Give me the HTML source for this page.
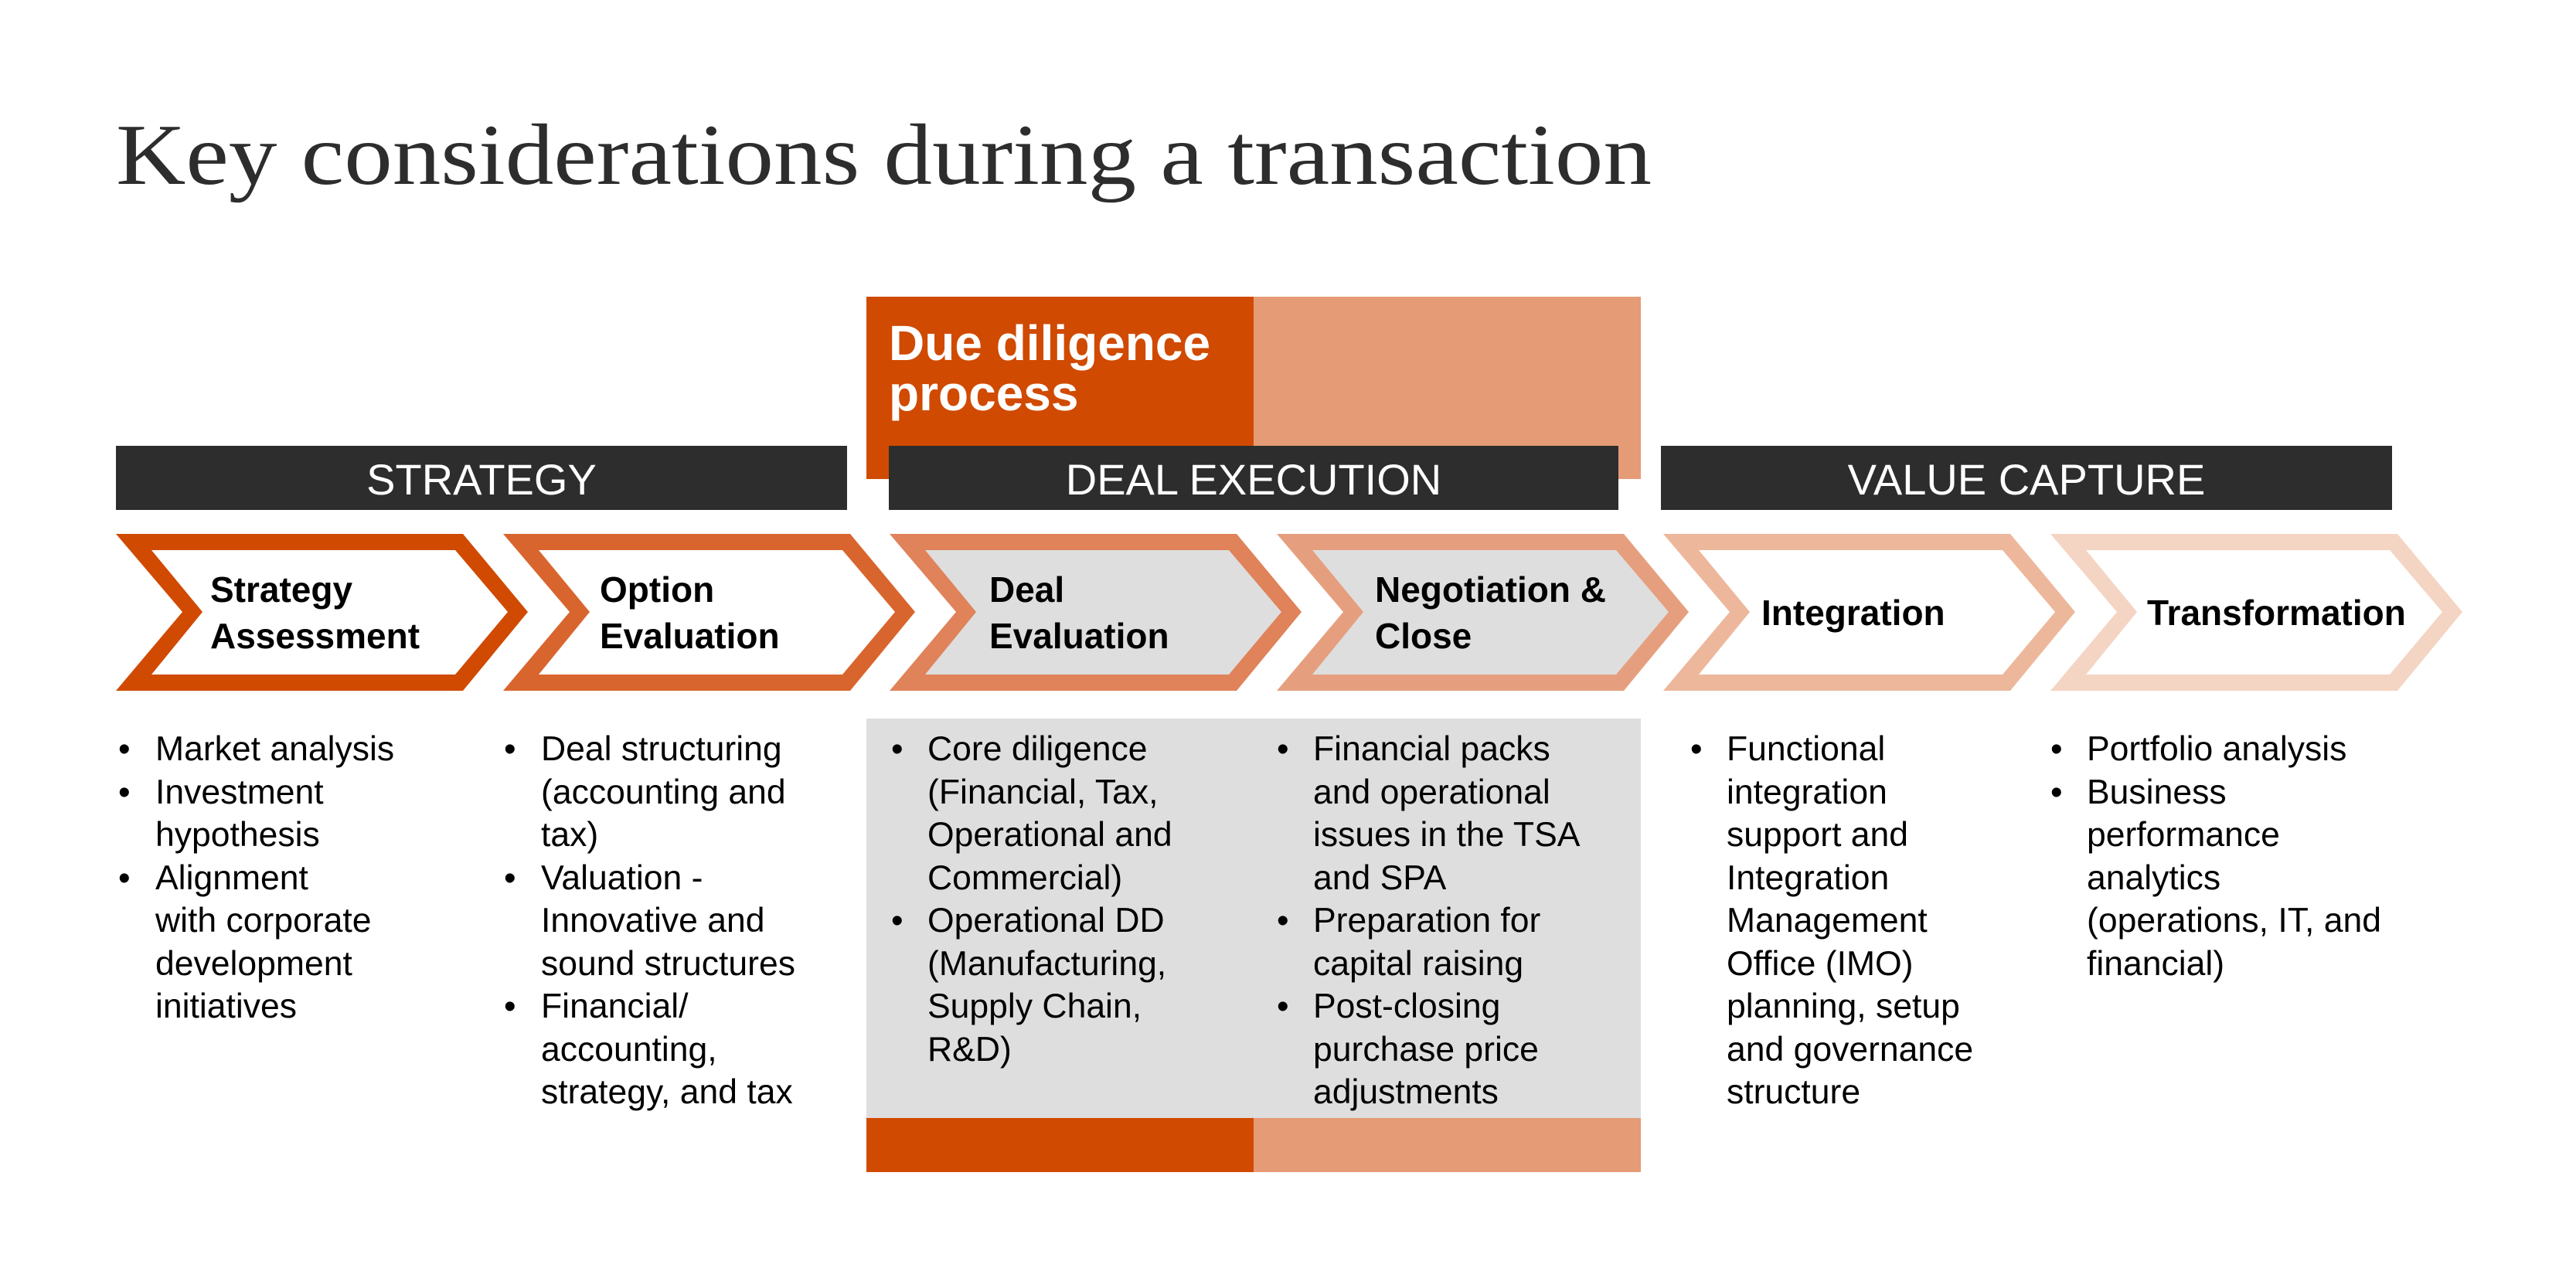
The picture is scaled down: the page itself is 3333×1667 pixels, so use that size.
<!DOCTYPE html>
<html><head><meta charset="utf-8"><style>
html,body{margin:0;padding:0;background:#fff;}
svg{display:block;}
text{font-family:"Liberation Sans",Arial,sans-serif;}
</style></head><body>
<svg width="3333" height="1667" viewBox="0 0 3333 1667" xmlns="http://www.w3.org/2000/svg">
<text x="150" y="238" font-size="112" fill="#2d2d2d" textLength="1987" lengthAdjust="spacingAndGlyphs" style="font-family:'Liberation Serif',serif">Key considerations during a transaction</text>

<!-- Due diligence header -->
<rect x="1121" y="384" width="501" height="236" fill="#D04A02"/>
<rect x="1622" y="384" width="501" height="236" fill="#E59B76"/>
<text x="1150" y="466" font-size="64" font-weight="bold" fill="#fff">Due diligence</text>
<text x="1150" y="531" font-size="64" font-weight="bold" fill="#fff">process</text>

<!-- bars -->
<rect x="150" y="577" width="946" height="83" fill="#2d2d2d"/>
<rect x="1150" y="577" width="944" height="83" fill="#2d2d2d"/>
<rect x="2149" y="577" width="946" height="83" fill="#2d2d2d"/>
<text x="623" y="640" font-size="56" fill="#fff" text-anchor="middle">STRATEGY</text>
<text x="1622" y="640" font-size="56" fill="#fff" text-anchor="middle">DEAL EXECUTION</text>
<text x="2622" y="640" font-size="56" fill="#fff" text-anchor="middle">VALUE CAPTURE</text>

<!-- grey box -->
<rect x="1121" y="930" width="1002" height="518" fill="#DEDEDE"/>
<rect x="1121" y="1447" width="501" height="70" fill="#D04A02"/>
<rect x="1622" y="1447" width="501" height="70" fill="#E59B76"/>

<!-- chevrons -->
<g>
<polygon points="150,691 599,691 683,792 599,894 150,894 236,792" fill="#D04A02"/>
<polygon points="196,712 589,712 657,792 589,873 196,873 262,792" fill="#fff"/>
<polygon points="651,691 1100,691 1184,792 1100,894 651,894 737,792" fill="#D9652E"/>
<polygon points="697,712 1090,712 1158,792 1090,873 697,873 763,792" fill="#fff"/>
<polygon points="1151,691 1600,691 1684,792 1600,894 1151,894 1237,792" fill="#E0825A"/>
<polygon points="1197,712 1590,712 1658,792 1590,873 1197,873 1263,792" fill="#DEDEDE"/>
<polygon points="1652,691 2101,691 2185,792 2101,894 1652,894 1738,792" fill="#E69F7E"/>
<polygon points="1698,712 2091,712 2159,792 2091,873 1698,873 1764,792" fill="#DEDEDE"/>
<polygon points="2152,691 2601,691 2685,792 2601,894 2152,894 2238,792" fill="#EDB79C"/>
<polygon points="2198,712 2591,712 2659,792 2591,873 2198,873 2264,792" fill="#fff"/>
<polygon points="2653,691 3102,691 3186,792 3102,894 2653,894 2739,792" fill="#F4D4C3"/>
<polygon points="2699,712 3092,712 3160,792 3092,873 2699,873 2765,792" fill="#fff"/>
</g>
<g font-size="46" font-weight="bold" fill="#000">
<text x="272" y="779">Strategy</text><text x="272" y="839">Assessment</text>
<text x="776" y="779">Option</text><text x="776" y="839">Evaluation</text>
<text x="1280" y="779">Deal</text><text x="1280" y="839">Evaluation</text>
<text x="1779" y="779">Negotiation &amp;</text><text x="1779" y="839">Close</text>
<text x="2279" y="809">Integration</text>
<text x="2778" y="809">Transformation</text>
</g>

<!-- bullets -->
<g font-size="44.5" fill="#000">
<g>
<text x="153" y="984">•</text><text x="201" y="984">Market analysis</text>
<text x="153" y="1040">•</text><text x="201" y="1040">Investment</text>
<text x="201" y="1095">hypothesis</text>
<text x="153" y="1151">•</text><text x="201" y="1151">Alignment</text>
<text x="201" y="1206">with corporate</text>
<text x="201" y="1262">development</text>
<text x="201" y="1317">initiatives</text>
</g>
<g>
<text x="652" y="984">•</text><text x="700" y="984">Deal structuring</text>
<text x="700" y="1040">(accounting and</text>
<text x="700" y="1095">tax)</text>
<text x="652" y="1151">•</text><text x="700" y="1151">Valuation -</text>
<text x="700" y="1206">Innovative and</text>
<text x="700" y="1262">sound structures</text>
<text x="652" y="1317">•</text><text x="700" y="1317">Financial/</text>
<text x="700" y="1373">accounting,</text>
<text x="700" y="1428">strategy, and tax</text>
</g>
<g>
<text x="1153" y="984">•</text><text x="1200" y="984">Core diligence</text>
<text x="1200" y="1040">(Financial, Tax,</text>
<text x="1200" y="1095">Operational and</text>
<text x="1200" y="1151">Commercial)</text>
<text x="1153" y="1206">•</text><text x="1200" y="1206">Operational DD</text>
<text x="1200" y="1262">(Manufacturing,</text>
<text x="1200" y="1317">Supply Chain,</text>
<text x="1200" y="1373">R&amp;D)</text>
</g>
<g>
<text x="1652" y="984">•</text><text x="1699" y="984">Financial packs</text>
<text x="1699" y="1040">and operational</text>
<text x="1699" y="1095">issues in the TSA</text>
<text x="1699" y="1151">and SPA</text>
<text x="1652" y="1206">•</text><text x="1699" y="1206">Preparation for</text>
<text x="1699" y="1262">capital raising</text>
<text x="1652" y="1317">•</text><text x="1699" y="1317">Post-closing</text>
<text x="1699" y="1373">purchase price</text>
<text x="1699" y="1428">adjustments</text>
</g>
<g>
<text x="2187" y="984">•</text><text x="2234" y="984">Functional</text>
<text x="2234" y="1040">integration</text>
<text x="2234" y="1095">support and</text>
<text x="2234" y="1151">Integration</text>
<text x="2234" y="1206">Management</text>
<text x="2234" y="1262">Office (IMO)</text>
<text x="2234" y="1317">planning, setup</text>
<text x="2234" y="1373">and governance</text>
<text x="2234" y="1428">structure</text>
</g>
<g>
<text x="2653" y="984">•</text><text x="2700" y="984">Portfolio analysis</text>
<text x="2653" y="1040">•</text><text x="2700" y="1040">Business</text>
<text x="2700" y="1095">performance</text>
<text x="2700" y="1151">analytics</text>
<text x="2700" y="1206">(operations, IT, and</text>
<text x="2700" y="1262">financial)</text>
</g>
</g>
</svg>
</body></html>
